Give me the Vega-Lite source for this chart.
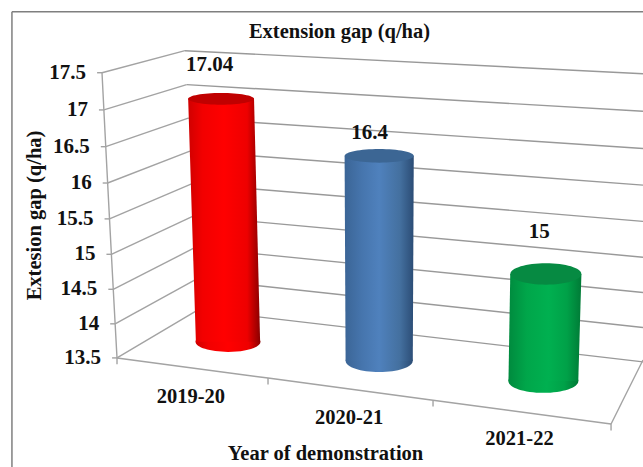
{
  "$schema": "https://vega.github.io/schema/vega-lite/v6.json",
  "width": 643,
  "height": 467,
  "padding": 0,
  "autosize": "none",
  "background": "white",
  "config": {"view": {"stroke": null}},
  "title": {"text": "Extension gap (q/ha)", "font": "Liberation Serif", "fontWeight": "bold", "fontSize": 20.5, "color": "#111111", "anchor": "middle", "dx": 18, "offset": -42},
  "resolve": {"axis": {"x": "independent", "y": "independent"}},
  "datasets": {
    "gridValues": [{"value": 13.5}, {"value": 14}, {"value": 14.5}, {"value": 15}, {"value": 15.5}, {"value": 16}, {"value": 16.5}, {"value": 17}, {"value": 17.5}],
    "demonstrations": [
      {"year": "2019-20", "value": 17.04, "slot": 0},
      {"year": "2020-21", "value": 16.4, "slot": 1},
      {"year": "2021-22", "value": 15, "slot": 2}
    ],
    "floorTicks": [{"tick": 0}, {"tick": 1}, {"tick": 2}, {"tick": 3}]
  },
  "layer": [
    {
      "description": "Chart frame, with the two axis titles",
      "data": {"values": [{"edge": "frame"}]},
      "resolve": {"axis": {"x": "independent", "y": "independent"}},
      "layer": [
        {
          "mark": {"type": "rule", "stroke": "#7f7f7f", "strokeWidth": 1.5},
          "encoding": {
            "x": {"datum": -0.638, "type": "quantitative", "scale": {"domain": [-0.7105, 3.194], "nice": false}, "axis": {"title": "Year of demonstration", "domain": false, "ticks": false, "labels": false, "grid": false, "titleFont": "Liberation Serif", "titleFontWeight": "bold", "titleFontSize": 20.5, "titleColor": "#111111", "titleX": 325, "titleY": -14, "titleAlign": "center", "titleBaseline": "middle"}},
            "y": {"datum": 18.356, "type": "quantitative", "scale": {"domain": [11.97, 18.52], "nice": false}, "axis": {"title": "Extesion gap (q/ha)", "domain": false, "ticks": false, "labels": false, "grid": false, "titleFont": "Liberation Serif", "titleFontWeight": "bold", "titleFontSize": 20.5, "titleColor": "#111111", "titleX": 34, "titleY": 215, "titleAngle": -90, "titleAlign": "center", "titleBaseline": "middle"}},
            "y2": {"datum": 11.97}
          }
        },
        {
          "mark": {"type": "rule", "stroke": "#7f7f7f", "strokeWidth": 1.5},
          "encoding": {
            "x": {"datum": -0.638, "type": "quantitative", "scale": {"domain": [-0.7105, 3.194], "nice": false}, "axis": null},
            "x2": {"datum": 3.194},
            "y": {"datum": 18.356, "type": "quantitative", "scale": {"domain": [11.97, 18.52], "nice": false}, "axis": null}
          }
        }
      ]
    },
    {
      "description": "Wall and floor gridlines, projected from each axis value; sag is the perspective curve of the value axis",
      "data": {"name": "gridValues"},
      "transform": [
        {"calculate": "(datum.value - 13.5) * (17.5 - datum.value) / 4 * 0.05", "as": "sag"},
        {"calculate": "datum.value - datum.sag", "as": "frontLevel"},
        {"calculate": "-(datum.value - 13.5) * 0.02277", "as": "frontX"},
        {"calculate": "0.4919 - (datum.value - 13.5) * 0.01974", "as": "backX"},
        {"calculate": "14.174 + (datum.value - 13.5) * 0.9088 - datum.sag", "as": "backLevel"},
        {"calculate": "13.444 + (datum.value - 13.5) * 1.0105 - datum.sag", "as": "rightLevel"},
        {"calculate": "datum.frontX - 0.03", "as": "tickX"},
        {"calculate": "datum.frontX - 0.097", "as": "labelX"}
      ],
      "layer": [
        {
          "mark": {"type": "rule", "stroke": "#a3a3a3", "strokeWidth": 1.4},
          "encoding": {
            "x": {"field": "frontX", "type": "quantitative", "scale": {"domain": [-0.7105, 3.194], "nice": false}, "axis": null},
            "x2": {"field": "backX"},
            "y": {"field": "frontLevel", "type": "quantitative", "scale": {"domain": [11.97, 18.52], "nice": false}, "axis": null},
            "y2": {"field": "backLevel"}
          }
        },
        {
          "mark": {"type": "rule", "stroke": "#999999", "strokeWidth": 1.4},
          "encoding": {
            "x": {"field": "backX", "type": "quantitative", "scale": {"domain": [-0.7105, 3.194], "nice": false}, "axis": null},
            "x2": {"datum": 3.194},
            "y": {"field": "backLevel", "type": "quantitative", "scale": {"domain": [11.97, 18.52], "nice": false}, "axis": null},
            "y2": {"field": "rightLevel"}
          }
        },
        {
          "mark": {"type": "rule", "stroke": "#a3a3a3", "strokeWidth": 1.4},
          "encoding": {
            "x": {"field": "tickX", "type": "quantitative", "scale": {"domain": [-0.7105, 3.194], "nice": false}, "axis": null},
            "x2": {"field": "frontX"},
            "y": {"field": "frontLevel", "type": "quantitative", "scale": {"domain": [11.97, 18.52], "nice": false}, "axis": null}
          }
        },
        {
          "mark": {"type": "line", "stroke": "#a3a3a3", "strokeWidth": 1.4},
          "encoding": {
            "x": {"field": "frontX", "type": "quantitative", "scale": {"domain": [-0.7105, 3.194], "nice": false}, "axis": null},
            "y": {"field": "frontLevel", "type": "quantitative", "scale": {"domain": [11.97, 18.52], "nice": false}, "axis": null}
          }
        },
        {
          "mark": {"type": "text", "align": "right", "baseline": "middle", "font": "Liberation Serif", "fontWeight": "bold", "fontSize": 21, "color": "#111111"},
          "encoding": {
            "x": {"field": "labelX", "type": "quantitative", "scale": {"domain": [-0.7105, 3.194], "nice": false}, "axis": null},
            "y": {"field": "frontLevel", "type": "quantitative", "scale": {"domain": [11.97, 18.52], "nice": false}, "axis": null},
            "text": {"field": "value", "type": "nominal"}
          }
        }
      ]
    },
    {
      "description": "Front edge of the floor with its category ticks, and the right-hand floor edge",
      "data": {"name": "floorTicks"},
      "transform": [
        {"calculate": "[0, 0.917, 1.919, 3][datum.tick]", "as": "tickX"},
        {"calculate": "13.5 - datum.tickX * 0.3088", "as": "edgeLevel"},
        {"calculate": "datum.edgeLevel - 0.09", "as": "tickEnd"}
      ],
      "layer": [
        {
          "mark": {"type": "line", "stroke": "#a3a3a3", "strokeWidth": 1.5},
          "encoding": {
            "x": {"field": "tickX", "type": "quantitative", "scale": {"domain": [-0.7105, 3.194], "nice": false}, "axis": null},
            "y": {"field": "edgeLevel", "type": "quantitative", "scale": {"domain": [11.97, 18.52], "nice": false}, "axis": null}
          }
        },
        {
          "mark": {"type": "rule", "stroke": "#a3a3a3", "strokeWidth": 1.4},
          "encoding": {
            "x": {"field": "tickX", "type": "quantitative", "scale": {"domain": [-0.7105, 3.194], "nice": false}, "axis": null},
            "y": {"field": "edgeLevel", "type": "quantitative", "scale": {"domain": [11.97, 18.52], "nice": false}, "axis": null},
            "y2": {"field": "tickEnd"}
          }
        },
        {
          "transform": [{"filter": "datum.tick == 3"}],
          "mark": {"type": "rule", "stroke": "#a3a3a3", "strokeWidth": 1.4},
          "encoding": {
            "x": {"field": "tickX", "type": "quantitative", "scale": {"domain": [-0.7105, 3.194], "nice": false}, "axis": null},
            "x2": {"datum": 3.194},
            "y": {"field": "edgeLevel", "type": "quantitative", "scale": {"domain": [11.97, 18.52], "nice": false}, "axis": null},
            "y2": {"datum": 13.47}
          }
        }
      ]
    },
    {
      "description": "Cylinders: a base ellipse, a shaded body and a darker top ellipse for each year",
      "data": {"name": "demonstrations"},
      "transform": [
        {"calculate": "[13.725, 13.458, 13.177][datum.slot]", "as": "floor"},
        {"calculate": "datum.floor + (datum.value - 13.5) * [0.963, 0.992, 1][datum.slot]", "as": "roof"},
        {"calculate": "[0.632, 1.592, 2.604][datum.slot]", "as": "topX"},
        {"calculate": "[0.674, 1.592, 2.589][datum.slot]", "as": "baseX"},
        {"calculate": "[0.2, 0.21, 0.216][datum.slot]", "as": "topHalf"},
        {"calculate": "[0.195, 0.204, 0.212][datum.slot]", "as": "baseHalf"},
        {"calculate": "datum.roof + [0.477, 0.323, 0.589][datum.slot]", "as": "valueLevel"},
        {"calculate": "datum.topX + [-0.07, -0.058, -0.04][datum.slot]", "as": "valueX"},
        {"calculate": "[0.449, 1.409, 2.444][datum.slot]", "as": "yearX"},
        {"calculate": "[12.953, 12.658, 12.356][datum.slot]", "as": "yearLevel"}
      ],
      "layer": [
        {
          "transform": [{"filter": "datum.slot == 0"}],
          "mark": {"type": "point", "filled": true, "opacity": 1, "size": 4225, "shape": "M-1,0A1,0.31,0,1,1,1,0A1,0.31,0,1,1,-1,0Z", "fill": {"gradient": "linear", "x1": 0, "y1": 0, "x2": 1, "y2": 0, "stops": [{"offset": 0, "color": "#d00000"}, {"offset": 0.2, "color": "#f20000"}, {"offset": 0.5, "color": "#ff0000"}, {"offset": 0.82, "color": "#ee0000"}, {"offset": 1, "color": "#8a0000"}]}},
          "encoding": {
            "x": {"field": "baseX", "type": "quantitative", "scale": {"domain": [-0.7105, 3.194], "nice": false}, "axis": null},
            "y": {"field": "floor", "type": "quantitative", "scale": {"domain": [11.97, 18.52], "nice": false}, "axis": null}
          }
        },
        {
          "transform": [
            {"filter": "datum.slot == 0"},
            {"fold": ["roof", "floor"], "as": ["end", "level"]},
            {"calculate": "datum.end == 'roof' ? datum.topX - datum.topHalf : datum.baseX - datum.baseHalf", "as": "left"},
            {"calculate": "datum.end == 'roof' ? datum.topX + datum.topHalf : datum.baseX + datum.baseHalf", "as": "right"}
          ],
          "mark": {"type": "area", "orient": "horizontal", "fill": {"gradient": "linear", "x1": 0, "y1": 0, "x2": 1, "y2": 0, "stops": [{"offset": 0, "color": "#d00000"}, {"offset": 0.2, "color": "#f20000"}, {"offset": 0.5, "color": "#ff0000"}, {"offset": 0.82, "color": "#ee0000"}, {"offset": 1, "color": "#8a0000"}]}},
          "encoding": {
            "y": {"field": "level", "type": "quantitative", "scale": {"domain": [11.97, 18.52], "nice": false}, "axis": null},
            "x": {"field": "left", "type": "quantitative", "scale": {"domain": [-0.7105, 3.194], "nice": false}, "axis": null},
            "x2": {"field": "right"}
          }
        },
        {
          "transform": [{"filter": "datum.slot == 0"}],
          "mark": {"type": "point", "filled": true, "opacity": 1, "size": 4356, "shape": "M-1,0A1,0.18,0,1,1,1,0A1,0.18,0,1,1,-1,0Z", "fill": "#c00000"},
          "encoding": {
            "x": {"field": "topX", "type": "quantitative", "scale": {"domain": [-0.7105, 3.194], "nice": false}, "axis": null},
            "y": {"field": "roof", "type": "quantitative", "scale": {"domain": [11.97, 18.52], "nice": false}, "axis": null}
          }
        },
        {
          "transform": [{"filter": "datum.slot == 1"}],
          "mark": {"type": "point", "filled": true, "opacity": 1, "size": 4489, "shape": "M-1,0A1,0.33,0,1,1,1,0A1,0.33,0,1,1,-1,0Z", "fill": {"gradient": "linear", "x1": 0, "y1": 0, "x2": 1, "y2": 0, "stops": [{"offset": 0, "color": "#3b6596"}, {"offset": 0.25, "color": "#4675ad"}, {"offset": 0.5, "color": "#4f81bd"}, {"offset": 0.8, "color": "#44709f"}, {"offset": 1, "color": "#2b4c75"}]}},
          "encoding": {
            "x": {"field": "baseX", "type": "quantitative", "scale": {"domain": [-0.7105, 3.194], "nice": false}, "axis": null},
            "y": {"field": "floor", "type": "quantitative", "scale": {"domain": [11.97, 18.52], "nice": false}, "axis": null}
          }
        },
        {
          "transform": [
            {"filter": "datum.slot == 1"},
            {"fold": ["roof", "floor"], "as": ["end", "level"]},
            {"calculate": "datum.end == 'roof' ? datum.topX - datum.topHalf : datum.baseX - datum.baseHalf", "as": "left"},
            {"calculate": "datum.end == 'roof' ? datum.topX + datum.topHalf : datum.baseX + datum.baseHalf", "as": "right"}
          ],
          "mark": {"type": "area", "orient": "horizontal", "fill": {"gradient": "linear", "x1": 0, "y1": 0, "x2": 1, "y2": 0, "stops": [{"offset": 0, "color": "#3b6596"}, {"offset": 0.25, "color": "#4675ad"}, {"offset": 0.5, "color": "#4f81bd"}, {"offset": 0.8, "color": "#44709f"}, {"offset": 1, "color": "#2b4c75"}]}},
          "encoding": {
            "y": {"field": "level", "type": "quantitative", "scale": {"domain": [11.97, 18.52], "nice": false}, "axis": null},
            "x": {"field": "left", "type": "quantitative", "scale": {"domain": [-0.7105, 3.194], "nice": false}, "axis": null},
            "x2": {"field": "right"}
          }
        },
        {
          "transform": [{"filter": "datum.slot == 1"}],
          "mark": {"type": "point", "filled": true, "opacity": 1, "size": 4761, "shape": "M-1,0A1,0.2,0,1,1,1,0A1,0.2,0,1,1,-1,0Z", "fill": "#3c6694"},
          "encoding": {
            "x": {"field": "topX", "type": "quantitative", "scale": {"domain": [-0.7105, 3.194], "nice": false}, "axis": null},
            "y": {"field": "roof", "type": "quantitative", "scale": {"domain": [11.97, 18.52], "nice": false}, "axis": null}
          }
        },
        {
          "transform": [{"filter": "datum.slot == 2"}],
          "mark": {"type": "point", "filled": true, "opacity": 1, "size": 4900, "shape": "M-1,0A1,0.34,0,1,1,1,0A1,0.34,0,1,1,-1,0Z", "fill": {"gradient": "linear", "x1": 0, "y1": 0, "x2": 1, "y2": 0, "stops": [{"offset": 0, "color": "#008a3e"}, {"offset": 0.25, "color": "#00a64a"}, {"offset": 0.55, "color": "#00b050"}, {"offset": 0.8, "color": "#00a148"}, {"offset": 1, "color": "#007a36"}]}},
          "encoding": {
            "x": {"field": "baseX", "type": "quantitative", "scale": {"domain": [-0.7105, 3.194], "nice": false}, "axis": null},
            "y": {"field": "floor", "type": "quantitative", "scale": {"domain": [11.97, 18.52], "nice": false}, "axis": null}
          }
        },
        {
          "transform": [
            {"filter": "datum.slot == 2"},
            {"fold": ["roof", "floor"], "as": ["end", "level"]},
            {"calculate": "datum.end == 'roof' ? datum.topX - datum.topHalf : datum.baseX - datum.baseHalf", "as": "left"},
            {"calculate": "datum.end == 'roof' ? datum.topX + datum.topHalf : datum.baseX + datum.baseHalf", "as": "right"}
          ],
          "mark": {"type": "area", "orient": "horizontal", "fill": {"gradient": "linear", "x1": 0, "y1": 0, "x2": 1, "y2": 0, "stops": [{"offset": 0, "color": "#008a3e"}, {"offset": 0.25, "color": "#00a64a"}, {"offset": 0.55, "color": "#00b050"}, {"offset": 0.8, "color": "#00a148"}, {"offset": 1, "color": "#007a36"}]}},
          "encoding": {
            "y": {"field": "level", "type": "quantitative", "scale": {"domain": [11.97, 18.52], "nice": false}, "axis": null},
            "x": {"field": "left", "type": "quantitative", "scale": {"domain": [-0.7105, 3.194], "nice": false}, "axis": null},
            "x2": {"field": "right"}
          }
        },
        {
          "transform": [{"filter": "datum.slot == 2"}],
          "mark": {"type": "point", "filled": true, "opacity": 1, "size": 5041, "shape": "M-1,0A1,0.3,0,1,1,1,0A1,0.3,0,1,1,-1,0Z", "fill": "#068a42"},
          "encoding": {
            "x": {"field": "topX", "type": "quantitative", "scale": {"domain": [-0.7105, 3.194], "nice": false}, "axis": null},
            "y": {"field": "roof", "type": "quantitative", "scale": {"domain": [11.97, 18.52], "nice": false}, "axis": null}
          }
        },
        {
          "mark": {"type": "text", "align": "center", "baseline": "middle", "font": "Liberation Serif", "fontWeight": "bold", "fontSize": 21, "color": "#111111"},
          "encoding": {
            "x": {"field": "valueX", "type": "quantitative", "scale": {"domain": [-0.7105, 3.194], "nice": false}, "axis": null},
            "y": {"field": "valueLevel", "type": "quantitative", "scale": {"domain": [11.97, 18.52], "nice": false}, "axis": null},
            "text": {"field": "value", "type": "nominal"}
          }
        },
        {
          "mark": {"type": "text", "align": "center", "baseline": "middle", "font": "Liberation Serif", "fontWeight": "bold", "fontSize": 20.5, "color": "#111111"},
          "encoding": {
            "x": {"field": "yearX", "type": "quantitative", "scale": {"domain": [-0.7105, 3.194], "nice": false}, "axis": null},
            "y": {"field": "yearLevel", "type": "quantitative", "scale": {"domain": [11.97, 18.52], "nice": false}, "axis": null},
            "text": {"field": "year", "type": "nominal"}
          }
        }
      ]
    }
  ]
}
